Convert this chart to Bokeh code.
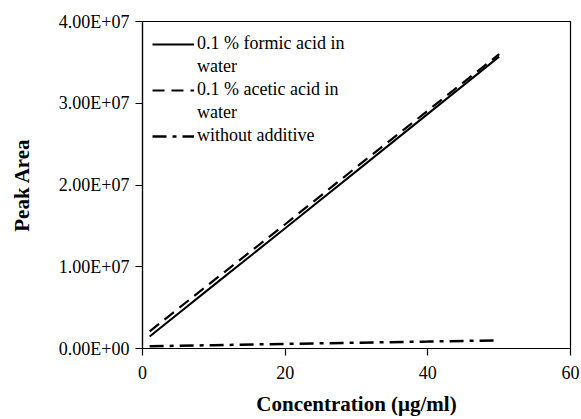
from bokeh.plotting import figure
from bokeh.models import FixedTicker, Legend, LegendItem, Range1d
from bokeh.embed import file_html
from bokeh.resources import INLINE

conc = [1, 10, 20, 30, 40, 50]
formic = [1.47e6, 7.75e6, 1.47e7, 2.17e7, 2.87e7, 3.57e7]
acetic = [2.1e6, 8.33e6, 1.52e7, 2.22e7, 2.91e7, 3.6e7]
without = [2.8e5, 4.1e5, 5.6e5, 7.1e5, 8.5e5, 1.0e6]

x_ticks = [0, 20, 40, 60]
y_ticks = [0, 1e7, 2e7, 3e7, 4e7]
y_tick_labels = ["0.00E+00", "1.00E+07", "2.00E+07", "3.00E+07", "4.00E+07"]

legend_labels = ["0.1 % formic acid in", "water", "0.1 % acetic acid in", "water", "without additive"]

FONT = "Liberation Serif"

p = figure(width=581, height=419, output_backend="svg", toolbar_location=None,
           min_border_left=142, min_border_right=11, min_border_top=21, min_border_bottom=71,
           x_range=Range1d(0, 60), y_range=Range1d(0, 4e7))
p.background_fill_color = "white"
p.border_fill_color = "white"
p.outline_line_color = "black"
p.outline_line_width = 1.2
p.xgrid.visible = False
p.ygrid.visible = False

r1 = p.line(conc, formic, line_color="black", line_width=2)
r2 = p.line(conc, acetic, line_color="black", line_width=2.2, line_dash="12 7")
r3 = p.line(conc, without, line_color="black", line_width=2.5, line_dash="14 6 4 6")
blank = p.line(x=[], y=[], line_alpha=0)

legend = Legend(items=[
    LegendItem(label=legend_labels[0], renderers=[r1]),
    LegendItem(label=legend_labels[1], renderers=[blank]),
    LegendItem(label=legend_labels[2], renderers=[r2]),
    LegendItem(label=legend_labels[3], renderers=[blank]),
    LegendItem(label=legend_labels[4], renderers=[r3]),
], location=(10, 202))
legend.label_text_font = FONT
legend.label_text_font_size = "18px"
legend.label_text_color = "black"
legend.label_height = 18
legend.glyph_height = 18
legend.glyph_width = 42
legend.label_standoff = 3
legend.spacing = 2
legend.padding = 0
legend.margin = 0
legend.border_line_color = None
legend.background_fill_alpha = 0
p.add_layout(legend)

p.xaxis.ticker = FixedTicker(ticks=x_ticks)
p.yaxis.ticker = FixedTicker(ticks=y_ticks)
p.yaxis.major_label_overrides = {t: l for t, l in zip(y_ticks, y_tick_labels)}

for ax in (p.xaxis, p.yaxis):
    ax.axis_line_color = "black"
    ax.axis_line_width = 1.2
    ax.major_tick_line_color = "black"
    ax.major_tick_line_width = 1.2
    ax.major_tick_in = 0
    ax.major_tick_out = 7
    ax.minor_tick_line_color = None
    ax.major_label_text_font = FONT
    ax.major_label_text_font_size = "18px"
    ax.major_label_text_color = "black"
    ax.axis_label_text_font = FONT
    ax.axis_label_text_font_size = "21px"
    ax.axis_label_text_font_style = "bold"
    ax.axis_label_text_color = "black"

p.xaxis.axis_label = "Concentration (μg/ml)"
p.yaxis.axis_label = "Peak Area"
p.xaxis.major_label_standoff = 10
p.yaxis.major_label_standoff = 6
p.xaxis.axis_label_standoff = 10
p.yaxis.axis_label_standoff = 22

open("out.html", "w").write(file_html(p, INLINE))
